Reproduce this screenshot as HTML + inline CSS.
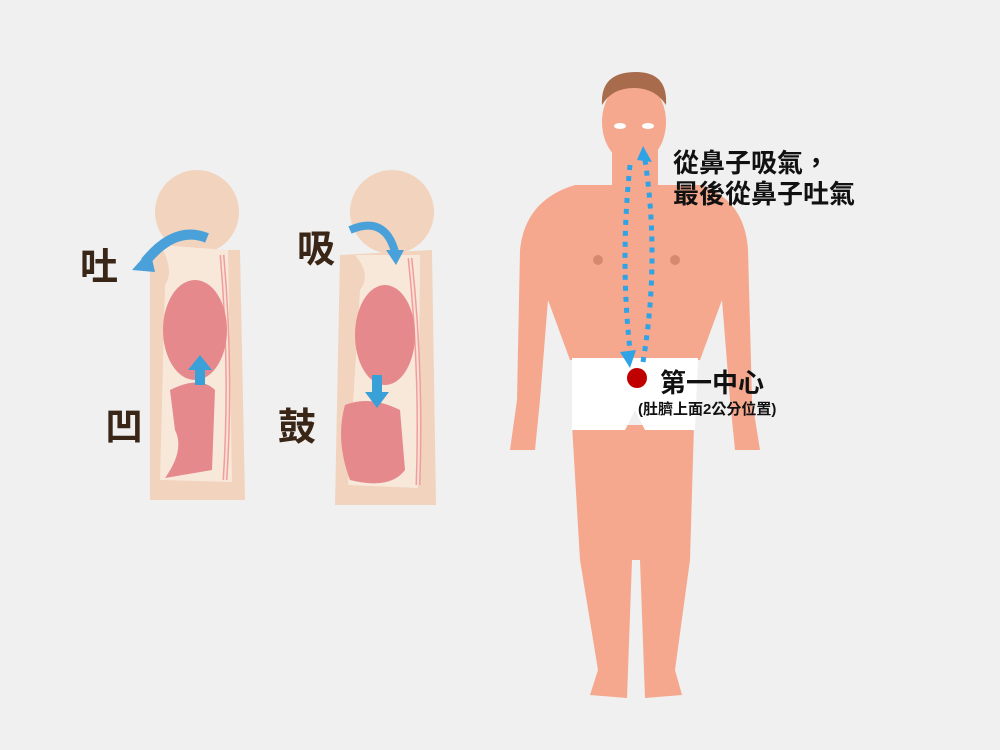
<!DOCTYPE html>
<html><head><meta charset="utf-8"><style>
body{margin:0;background:#f0f0f0;}
svg{display:block}
text{font-family:"Liberation Sans","Noto Sans CJK TC",sans-serif;font-weight:bold;}
</style></head><body>
<svg width="1000" height="750" viewBox="0 0 1000 750">
<rect width="1000" height="750" fill="#f0f0f0"/>
<g>
<circle cx="197" cy="212" r="42" fill="#f2d3bd"/>
<path d="M150 250 L240 250 L245 500 L150 500 Z" fill="#f2d3bd"/>
<path d="M160 245 Q175 270 165 285 L160 480 L232 482 L228 250 Z" fill="#f7e8da"/>
<path d="M222 255 Q232 370 225 480" stroke="#ef9f9b" stroke-width="5" fill="none"/>
<path d="M222 255 Q232 370 225 480" stroke="#fbe0d4" stroke-width="2" fill="none"/>
<ellipse cx="195" cy="330" rx="32" ry="50" fill="#e5898d"/>
<path d="M170 390 Q200 375 215 390 L212 470 L165 478 Q185 450 175 430 Z" fill="#e5898d"/>
<path d="M207 238 Q175 225 145 262" stroke="#4aa0d8" stroke-width="10" fill="none"/>
<polygon points="132,270 150,250 155,272" fill="#4aa0d8"/>
<path d="M195 385 L195 370 L188 370 L200 355 L212 370 L205 370 L205 385 Z" fill="#3aa0d8"/>
</g>
<g>
<circle cx="392" cy="212" r="42" fill="#f2d3bd"/>
<path d="M340 255 L432 250 L436 505 L335 505 Z" fill="#f2d3bd"/>
<path d="M355 255 Q372 275 360 290 L348 485 L418 488 L420 255 Z" fill="#f7e8da"/>
<path d="M410 258 Q422 370 418 485" stroke="#ef9f9b" stroke-width="5" fill="none"/>
<path d="M410 258 Q422 370 418 485" stroke="#fbe0d4" stroke-width="2" fill="none"/>
<ellipse cx="385" cy="335" rx="30" ry="50" fill="#e5898d"/>
<path d="M345 405 Q370 395 400 410 L405 470 Q390 490 350 480 Q335 440 345 405 Z" fill="#e5898d"/>
<path d="M350 230 Q385 215 395 252" stroke="#4aa0d8" stroke-width="8" fill="none"/>
<polygon points="386,250 404,250 396,265" fill="#4aa0d8"/>
<path d="M372 375 L382 375 L382 392 L389 392 L377 408 L365 392 L372 392 Z" fill="#3aa0d8"/>
</g>
<text x="80" y="280" font-size="38" fill="#3a2616">吐</text>
<text x="105" y="440" font-size="38" fill="#3a2616">凹</text>
<text x="297" y="262" font-size="38" fill="#3a2616">吸</text>
<text x="278" y="440" font-size="38" fill="#3a2616">鼓</text>
<g fill="#f5a88e">
<path d="M520 250 Q525 200 575 185 L700 185 Q745 200 748 250 L752 400 L760 450 L735 450 L730 400 L722 300 L700 360 L570 360 L548 300 L540 400 L535 450 L510 450 L517 400 Z"/>
<rect x="612" y="150" width="46" height="45"/>
<ellipse cx="634" cy="122" rx="32" ry="42"/>
<path d="M572 425 L694 425 L690 560 L675 670 L682 695 L645 698 L640 560 L632 560 L627 698 L590 695 L598 670 L580 560 Z"/>
</g>
<path d="M602 105 Q600 72 636 72 Q668 72 666 105 Q655 88 634 88 Q612 88 602 105 Z" fill="#a86c4c"/>
<ellipse cx="620" cy="126" rx="6" ry="3" fill="#fff"/><ellipse cx="648" cy="126" rx="6" ry="3" fill="#fff"/>
<circle cx="598" cy="260" r="5" fill="#d58a70"/><circle cx="675" cy="260" r="5" fill="#d58a70"/>
<path d="M572 358 L698 358 L695 430 L645 430 L635 410 L625 430 L572 430 Z" fill="#fff"/>
<circle cx="637" cy="378" r="10" fill="#c00000"/>
<g stroke="#2ea3e6" stroke-width="5" stroke-dasharray="5,6" fill="none">
<path d="M630 165 Q620 260 630 350"/>
<path d="M643 362 Q660 260 645 160"/>
</g>
<polygon points="620,352 636,350 630,368" fill="#2ea3e6"/>
<polygon points="637,160 643,146 652,162" fill="#2ea3e6"/>
<text x="673" y="172" font-size="26" fill="#111">從鼻子吸氣，</text>
<text x="673" y="203" font-size="26" fill="#111">最後從鼻子吐氣</text>
<text x="660" y="392" font-size="26" fill="#111">第一中心</text>
<text x="638" y="414" font-size="15" fill="#111">(肚臍上面2公分位置)</text>
</svg>
</body></html>
